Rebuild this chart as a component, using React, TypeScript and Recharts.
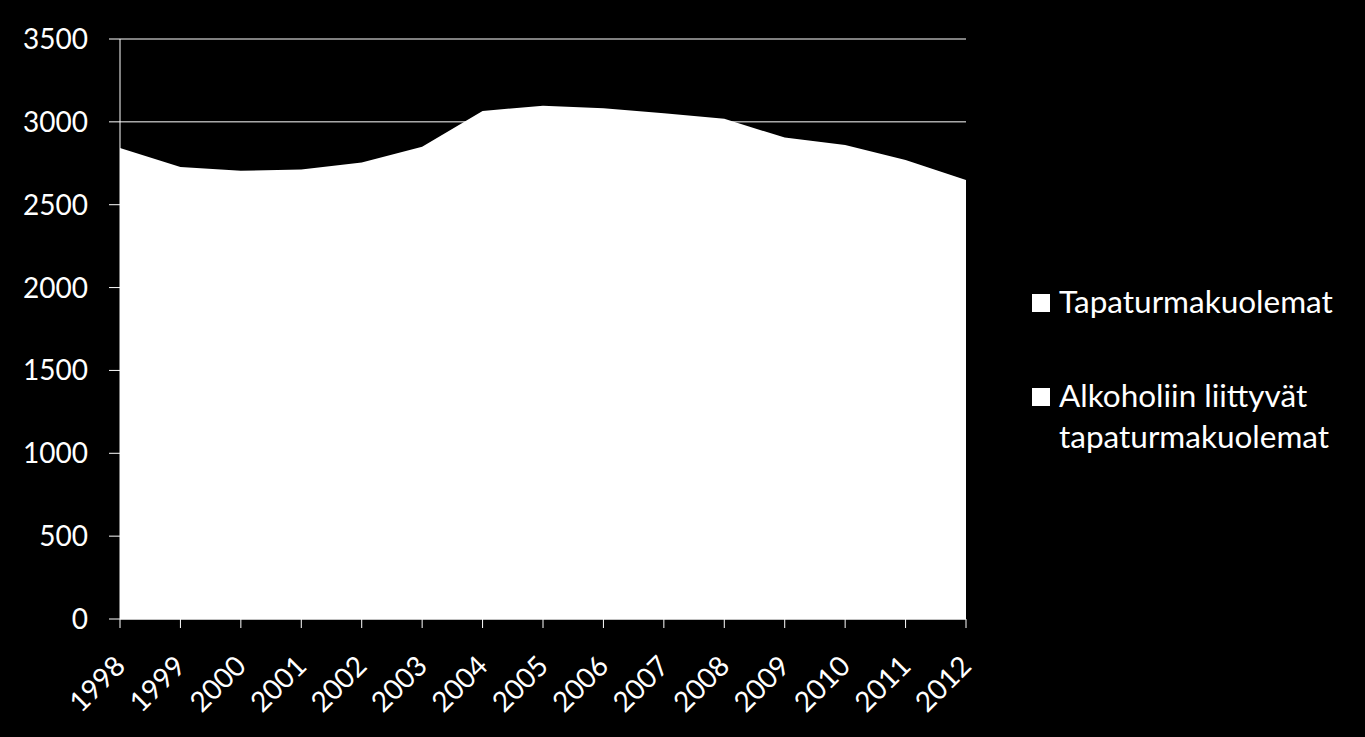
import { AreaChart, Area, XAxis, YAxis, CartesianGrid } from "recharts";

// Vuodet ja arvot luettu kuvasta
const years = ["1998", "1999", "2000", "2001", "2002", "2003", "2004", "2005", "2006", "2007", "2008", "2009", "2010", "2011", "2012"];
const tapaturmakuolemat = [2842, 2728, 2705, 2713, 2754, 2850, 3066, 3097, 3082, 3052, 3018, 2905, 2861, 2770, 2649];
// Piilossa valkoisen alueen alla; arvioitu
const alkoholiin = [1150, 1130, 1120, 1130, 1160, 1200, 1330, 1360, 1350, 1320, 1290, 1220, 1200, 1150, 1100];
const yTicks = [0, 500, 1000, 1500, 2000, 2500, 3000, 3500];
const legendNames = ["Tapaturmakuolemat", "Alkoholiin liittyvät tapaturmakuolemat"];

const data = years.map((year, i) => ({
  year,
  total: tapaturmakuolemat[i],
  alcohol: alkoholiin[i],
}));

const FONT = "Lato, 'Open Sans', sans-serif";
const WHITE = "#ffffff";

function YearTick({ x, y, payload }: { x?: number; y?: number; payload?: { value: string } }) {
  return (
    <g transform={`translate(${(x ?? 0) - 7},${(y ?? 0) + 24}) rotate(-45)`}>
      <text x={0} y={0} dy="0.7em" textAnchor="end" fill={WHITE} fontSize={28} fontFamily={FONT}>
        {payload?.value}
      </text>
    </g>
  );
}

// Selite piirretään kaavion ulkopuolelle, jotta piirtoalue ei kutistu
function LegendBox() {
  const square = { display: "inline-block", flex: "none", width: 18, height: 18, background: WHITE, marginRight: 9, marginTop: 13 } as const;
  return (
    <div
      style={{
        position: "absolute",
        left: 1032,
        top: 281,
        color: WHITE,
        fontFamily: FONT,
        fontSize: 31.5,
        lineHeight: "41px",
      }}
    >
      <div style={{ display: "flex", alignItems: "flex-start" }}>
        <span style={square} />
        <span>{legendNames[0]}</span>
      </div>
      <div style={{ display: "flex", alignItems: "flex-start", marginTop: 53 }}>
        <span style={square} />
        <span>
          Alkoholiin liittyvät
          <br />
          tapaturmakuolemat
        </span>
      </div>
    </div>
  );
}

export default function App() {
  return (
    <div style={{ position: "absolute", left: 0, top: 0, width: 1365, height: 737, background: "#000" }}>
      <AreaChart width={1365} height={737} data={data} margin={{ top: 39, right: 399, bottom: 0, left: 0 }}>
        <CartesianGrid stroke={WHITE} strokeWidth={1} vertical={false} />
        <XAxis
          dataKey="year"
          stroke={WHITE}
          tickSize={9}
          tickLine={{ stroke: WHITE }}
          interval={0}
          tick={<YearTick />}
          height={118}
        />
        <YAxis
          width={120}
          domain={[0, 3500]}
          ticks={yTicks}
          stroke={WHITE}
          tickSize={11}
          tickMargin={21}
          tick={{ fill: WHITE, fontSize: 28, fontFamily: FONT }}
        />
        <Area
          type="linear"
          dataKey="total"
          name={legendNames[0]}
          stroke="none"
          fill={WHITE}
          fillOpacity={1}
          isAnimationActive={false}
        />
        <Area
          type="linear"
          dataKey="alcohol"
          name={legendNames[1]}
          stroke="none"
          fill={WHITE}
          fillOpacity={1}
          isAnimationActive={false}
        />
      </AreaChart>
      <LegendBox />
    </div>
  );
}
